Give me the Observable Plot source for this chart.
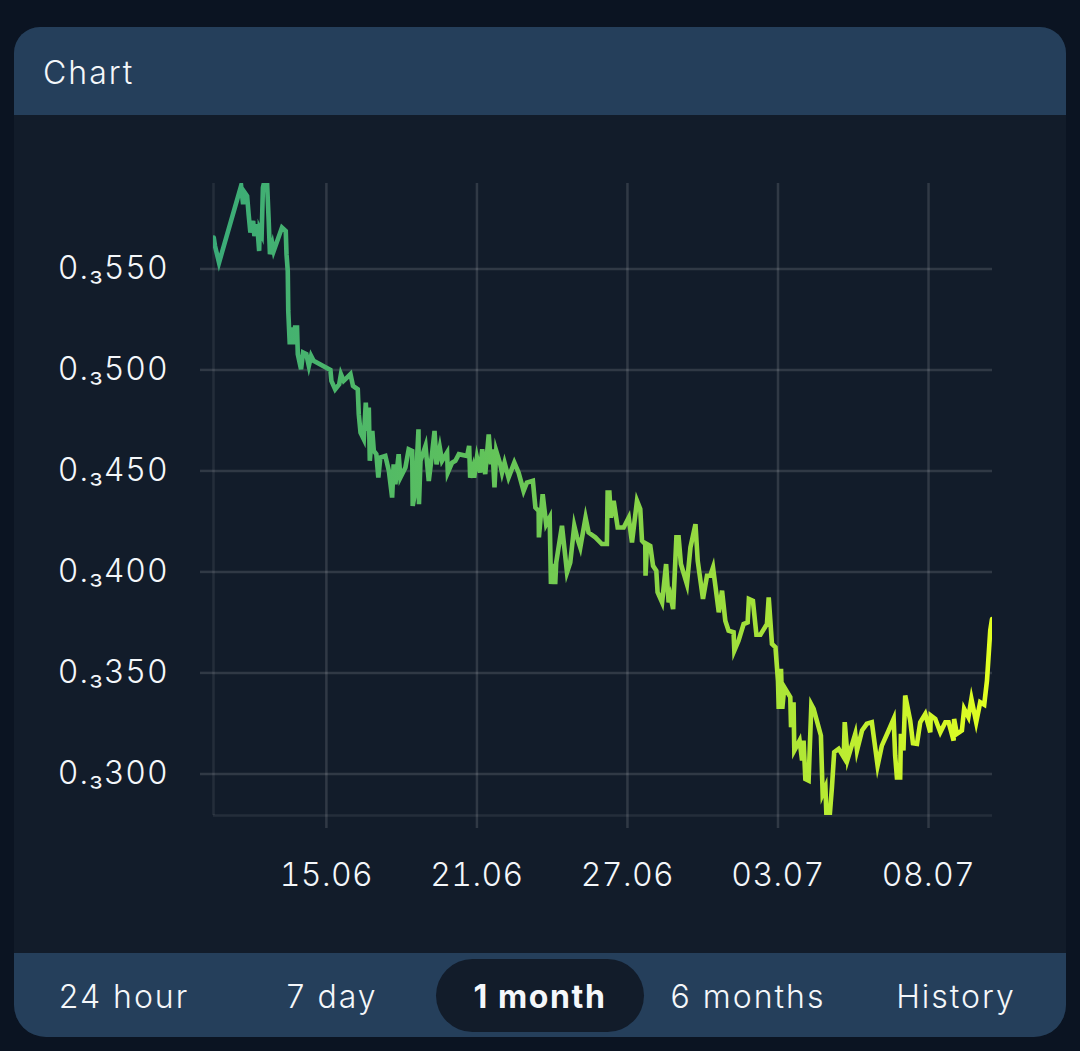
<!DOCTYPE html>
<html>
<head>
<meta charset="utf-8">
<script src="https://cdn.jsdelivr.net/npm/d3@7"></script>
<script src="https://cdn.jsdelivr.net/npm/@observablehq/plot@0.6"></script>
<style>
html,body{margin:0;padding:0;background:#0b1422;width:1080px;height:1051px;overflow:hidden;font-family:Inter,sans-serif;font-weight:300;color:#f4f7fa}
#card{position:absolute;left:14px;top:27px;width:1052px;height:1010px;background:#121c2a;border-radius:26px 26px 32px 32px;overflow:hidden}
#head{position:absolute;left:0;top:0;width:1052px;height:88px;background:#253f5b}
#head span{position:absolute;left:29px;top:26px;font-size:32px;line-height:40px;letter-spacing:2px}
#plot{position:absolute;left:0;top:88px}
#plot g[aria-label="y-axis tick label"] text{letter-spacing:.9px}
#plot g[aria-label="x-axis tick label"] text{letter-spacing:.4px}
#tabs{position:absolute;left:0;top:926px;width:1052px;height:84px;background:#253f5b}
.tab{position:absolute;top:0;width:208px;height:84px;line-height:87px;text-align:center;font-size:32px;white-space:nowrap;letter-spacing:2px}
.tab.on{top:6px;height:73px;line-height:75px;background:#121c2a;border-radius:37px;font-weight:700;letter-spacing:1.6px}
</style>
</head>
<body>
<div id="card">
  <div id="head"><span>Chart</span></div>
  <div id="plot"></div>
  <div id="tabs"></div>
</div>
<script>
const days = [-4.49,-4.44,-4.28,-3.40,-3.32,-3.30,-3.16,-3.10,-3.03,-2.92,-2.87,-2.76,-2.68,-2.66,-2.58,-2.53,-2.46,-2.37,-2.30,-2.25,-2.15,-2.10,-1.77,-1.62,-1.59,-1.54,-1.52,-1.46,-1.38,-1.33,-1.25,-1.17,-1.14,-1.01,-0.93,-0.80,-0.70,-0.61,-0.51,0.16,0.20,0.35,0.51,0.58,0.69,0.80,0.96,1.06,1.25,1.29,1.36,1.49,1.57,1.62,1.69,1.73,1.83,1.89,1.99,2.07,2.15,2.35,2.49,2.62,2.68,2.75,2.88,2.95,3.15,3.28,3.42,3.44,3.55,3.67,3.69,3.75,3.95,4.08,4.21,4.31,4.39,4.52,4.61,4.81,4.84,5.01,5.14,5.28,5.61,5.69,5.73,5.84,5.89,6.00,6.13,6.21,6.33,6.47,6.56,6.62,6.70,6.77,6.93,7.00,7.10,7.26,7.49,7.66,7.86,7.99,8.23,8.33,8.46,8.47,8.62,8.76,8.90,8.95,9.03,9.12,9.16,9.39,9.59,9.72,9.88,9.99,10.12,10.33,10.45,10.72,10.98,11.18,11.21,11.28,11.34,11.45,11.61,11.85,12.05,12.18,12.38,12.51,12.58,12.71,12.72,12.78,12.91,13.02,13.15,13.20,13.38,13.54,13.64,13.71,13.82,13.95,14.04,14.13,14.37,14.51,14.71,14.80,15.01,15.17,15.30,15.41,15.64,15.77,15.90,16.03,16.23,16.26,16.43,16.63,16.79,16.84,17.00,17.14,17.30,17.56,17.63,17.76,17.90,18.00,18.03,18.12,18.17,18.25,18.49,18.52,18.62,18.65,18.86,18.96,19.02,19.09,19.22,19.33,19.42,19.71,19.78,19.89,19.94,20.04,20.15,20.24,20.42,20.62,20.66,20.78,21.08,21.15,21.35,21.54,21.74,21.97,22.14,22.41,22.61,22.67,22.74,22.87,22.90,23.00,23.07,23.27,23.38,23.54,23.67,23.87,24.07,24.09,24.27,24.47,24.67,24.80,25.00,25.02,25.13,25.33,25.42,25.59,25.71,25.90,26.06,26.22,26.33,26.46,26.53];
const prices = [565.5,561.4,553.1,591.1,582.0,588.6,586.1,577.1,568.0,573.8,566.3,572.1,558.9,569.6,567.2,590.3,594,594,573.8,557.3,562.2,558.9,570.5,568.8,557.3,549.0,529.2,512.7,521.0,512.7,521.0,521.0,507.8,500.3,508.6,507.8,502.0,506.9,504.5,500.0,494.6,490.4,492.9,497.9,494.6,495.9,497.9,492.1,490.4,478.1,469.0,465.7,483.8,469.8,481.4,455.0,469.8,459.9,458.3,446.7,456.6,457.4,450.0,436.8,453.3,443.4,458.3,446.7,451.7,460.7,459.9,432.7,440.1,470.6,433.5,455.0,462.4,445.0,458.3,469.8,453.3,461.6,455.0,459.1,449.2,454.1,455.0,458.3,457.4,462.4,446.7,451.6,446.7,456.6,449.2,460.7,448.4,468.1,453.3,460.7,441.8,459.9,453.3,449.2,454.1,446.7,454.1,449.2,440.1,444.2,445.1,431.9,430.2,417.1,438.5,423.6,426.9,394.0,403.9,394.0,404.7,422.8,399.8,404.7,422.8,417.1,412.1,426.9,419.5,417.1,413.8,413.8,439.3,439.3,426.9,435.2,422.0,422.0,426.9,414.6,435.2,431.1,415.4,413.8,398.1,413.8,412.9,403.0,400.6,389.9,384.9,403.9,384.9,388.2,381.6,417.1,417.1,403.9,394.0,412.1,423.6,405.5,386.6,398.1,398.1,402.2,380.0,390.7,375.8,370.9,370.1,361.0,366.0,374.2,375.0,386.6,385.7,368.9,368.9,374.2,387.4,364.3,362.7,346.0,332.2,352.0,332.2,342.9,338.0,323.1,335.5,311.6,316.5,306.6,316.5,297.5,296.7,334.3,332.2,319.0,290.1,293.4,276,276,293.4,310.7,312.4,308.3,325.6,307.4,319.8,311.6,321.5,324.8,325.6,304.1,314.0,321.5,327.2,309.1,298.3,298.3,319.8,311.6,338.8,326.4,315.2,314.9,325.6,329.7,320.6,328.9,327.2,320.6,325.6,325.6,316.5,327.2,319.8,321.5,332.2,328.1,337.1,325.6,335.5,334.3,346.2,371.0,376.7];
const xTickDays = [0, 6, 12, 18, 24];
const xTickLabels = ["15.06", "21.06", "27.06", "03.07", "08.07"];
const yTicks = [300, 350, 400, 450, 500, 550];
const yPrefix = "0.₃";
const tabs = ["24 hour", "7 day", "1 month", "6 months", "History"];
const activeTab = "1 month";
const gradientColors = ["#3aab78", "#5fc25c", "#9fdf3c", "#e2ff22"];

const table = days.map((d, i) => ({day: d, price: prices[i]}));
const gridColor = "rgba(255,255,255,0.13)";

const gradient = () => {
  const svg = d3.create("svg:g");
  const g = svg.append("defs").append("linearGradient").attr("id", "lineGrad")
    .attr("x1", 0).attr("x2", 1).attr("y1", 0).attr("y2", 0);
  gradientColors.forEach((c, i) => g.append("stop").attr("offset", i / (gradientColors.length - 1)).attr("stop-color", c));
  return svg.node();
};

const chart = Plot.plot({
  width: 1052,
  height: 838,
  marginLeft: 199,
  marginRight: 74,
  marginTop: 68,
  marginBottom: 138,
  style: {background: "transparent", color: "#f4f7fa", fontFamily: "Inter, sans-serif", fontWeight: 300, fontSize: "32px", overflow: "visible"},
  x: {domain: [-4.5, 26.55]},
  y: {domain: [279.4, 592.3]},
  marks: [
    gradient,
    Plot.ruleX([-4.5], {stroke: "rgba(255,255,255,0.08)", strokeWidth: 2.5}),
    Plot.ruleY([279.4], {stroke: "rgba(255,255,255,0.08)", strokeWidth: 2.5}),
    Plot.gridX(xTickDays, {stroke: gridColor, strokeOpacity: 1, strokeWidth: 2.5}),
    Plot.gridY(yTicks, {stroke: gridColor, strokeOpacity: 1, strokeWidth: 2.5}),
    Plot.axisY({ticks: yTicks, tickSize: 13, tickPadding: 32, stroke: gridColor, strokeWidth: 2.5, strokeOpacity: 1,
      tickFormat: d => yPrefix + d, label: null, fontSize: 32, fill: "#f4f7fa"}),
    Plot.axisX({ticks: xTickDays, tickSize: 13, tickPadding: 35, stroke: gridColor, strokeWidth: 2.5, strokeOpacity: 1,
      tickFormat: d => xTickLabels[xTickDays.indexOf(d)], label: null, fontSize: 32, fill: "#f4f7fa"}),
    Plot.line(table, {x: "day", y: "price", stroke: "url(#lineGrad)", strokeWidth: 4.6, strokeLinejoin: "miter", strokeMiterlimit: 6, curve: "linear", clip: "frame"})
  ]
});
document.getElementById("plot").appendChild(chart);

const tabsEl = document.getElementById("tabs");
tabs.forEach((t, i) => {
  const el = document.createElement("div");
  el.className = "tab" + (t === activeTab ? " on" : "");
  el.textContent = t;
  el.style.left = (6 + i * 208) + "px";
  tabsEl.appendChild(el);
});
</script>
</body>
</html>
